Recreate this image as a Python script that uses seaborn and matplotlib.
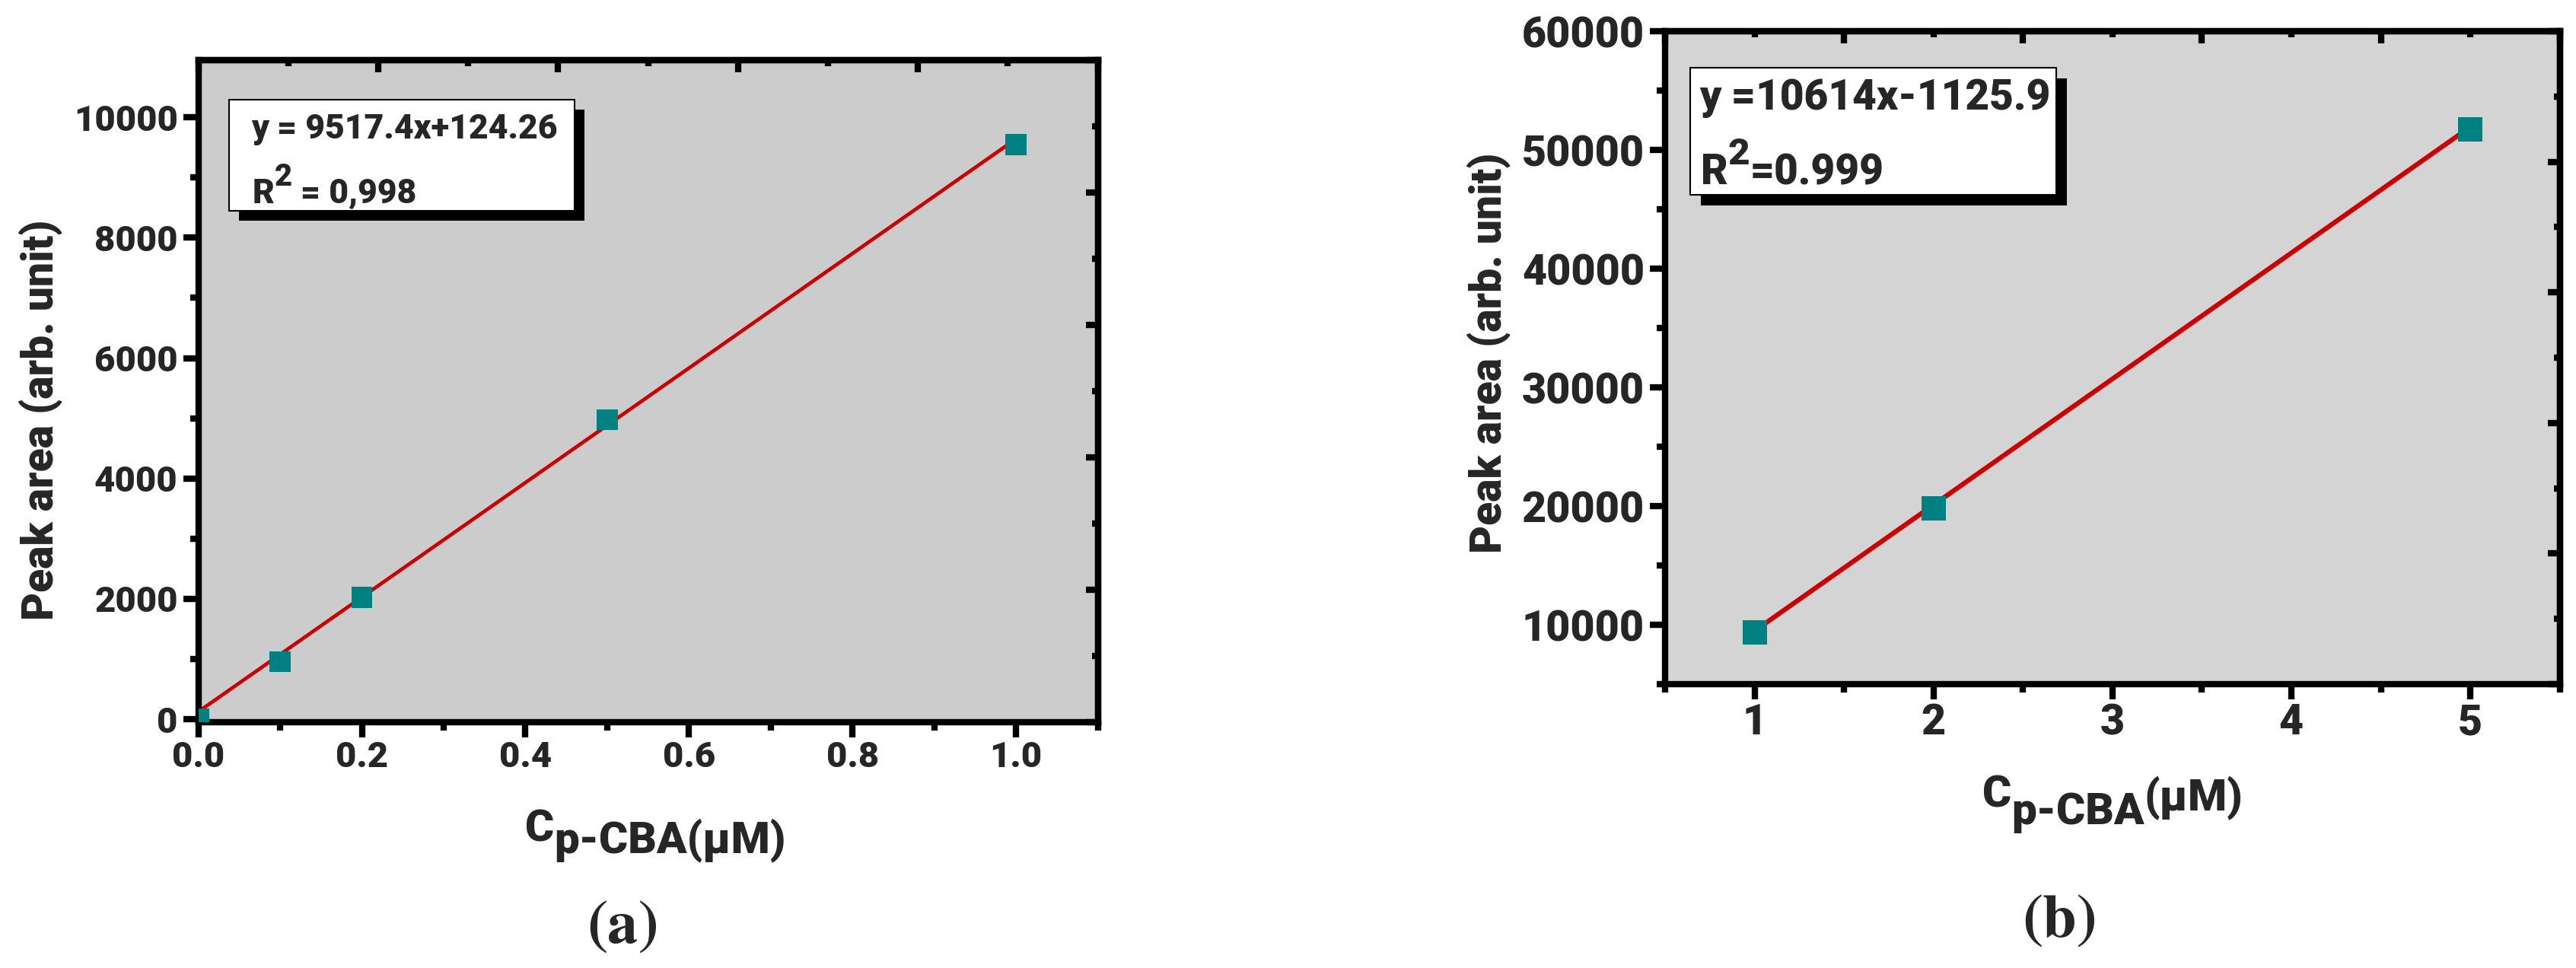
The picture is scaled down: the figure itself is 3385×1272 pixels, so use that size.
import numpy as np
import matplotlib
matplotlib.use("Agg")
import matplotlib.pyplot as plt
from matplotlib.patches import Rectangle
from matplotlib.ticker import MultipleLocator, FormatStrFormatter
import seaborn as sns

# ── data ──────────────────────────────────────────────────────────────────
conc_a = [0.0, 0.1, 0.2, 0.5, 1.0]          # C p-CBA (uM), panel a
area_a = [0, 955, 2020, 4975, 9550]         # peak area, panel a
slope_a, icpt_a = 9517.4, 124.26
fit_range_a = [0.0, 1.0]
eq_a = ("y = 9517.4x+124.26", "0,998")

conc_b = [1, 2, 5]                          # panel b
area_b = [9380, 19800, 51750]
slope_b, icpt_b = 10614, -1125.9
fit_range_b = [1, 5]
eq_b = ("y =10614x-1125.9", "0.999")

TEAL = "#008080"
RED = "#cc0000"
LW = 6  # frame / tick thickness (pt)
WEIGHT = 900

sns.set_style("ticks")
plt.rcParams["font.family"] = ["Roboto", "Liberation Sans", "DejaVu Sans"]
plt.rcParams["font.weight"] = WEIGHT
plt.rcParams["axes.labelweight"] = WEIGHT


def run_text(ax, x, y, pieces, size, zorder=6):
    """Draw text pieces side by side, each one raised/lowered by some points."""
    prev = None
    for text, rise, scale in pieces:
        if prev is None:
            xy, coords = (x, y), "axes fraction"
        else:
            xy, coords = (1, y), (prev, "axes fraction")
        prev = ax.annotate(text, xy=xy, xycoords=coords, xytext=(0, rise),
                           textcoords="offset points", fontsize=size * scale,
                           ha="left", va="baseline", fontweight=WEIGHT,
                           annotation_clip=False, zorder=zorder)


def frame_ticks(ax, xlim, ylim):
    # Origin style: top/right axes split in 10 equal steps, ticks inside
    tx = np.linspace(*xlim, 11)
    ty = np.linspace(*ylim, 11)
    top = ax.secondary_xaxis("top")
    top.set_xticks(tx[::2])
    top.set_xticks(tx[1::2], minor=True)
    top.tick_params(which="both", direction="in", labeltop=False, width=LW, color="black")
    top.tick_params(which="major", length=11.5)
    top.tick_params(which="minor", length=5.8)
    top.spines["top"].set_linewidth(LW)
    right = ax.secondary_yaxis("right")
    right.set_yticks(ty[::2])
    right.set_yticks(ty[1::2], minor=True)
    right.tick_params(which="both", direction="in", labelright=False, width=LW, color="black")
    right.tick_params(which="major", length=11.5)
    right.tick_params(which="minor", length=5.8)
    right.spines["right"].set_linewidth(LW)


def eq_box(ax, box, shadow, line1_xy, line2_xy, eq, size, sup_rise, sup_scale, gap):
    x0, y0, w, h = box
    dx, dy = shadow
    ax.add_patch(Rectangle((x0 + dx, y0 - dy), w, h, transform=ax.transAxes,
                           facecolor="black", edgecolor="none", zorder=4))
    ax.add_patch(Rectangle((x0, y0), w, h, transform=ax.transAxes,
                           facecolor="white", edgecolor="black", lw=1.5, zorder=5))
    ax.text(*line1_xy, eq[0], transform=ax.transAxes, fontsize=size,
            ha="left", va="baseline", fontweight=WEIGHT, zorder=6)
    run_text(ax, *line2_xy, [("R", 0, 1.0), ("2", sup_rise, sup_scale),
                             (gap + "=" + gap + eq[1], 0, 1.0)], size)


def panel(ax, conc, area, slope, icpt, fit_range, face, msize, lw, tick_fs):
    ax.set_facecolor(face)
    fit_y = [slope * x + icpt for x in fit_range]
    sns.lineplot(x=fit_range, y=fit_y, ax=ax, color=RED, lw=lw, legend=False, zorder=2)
    sns.scatterplot(x=conc, y=area, ax=ax, marker="s", s=msize, color=TEAL,
                    edgecolor="none", linewidth=0, zorder=3, legend=False)
    for sp in ax.spines.values():
        sp.set_visible(True)
        sp.set_linewidth(LW)
        sp.set_color("black")
    ax.tick_params(which="major", direction="out", length=14.4, width=LW,
                   labelsize=tick_fs, top=False, right=False, color="black")
    ax.tick_params(which="minor", direction="out", length=8, width=LW,
                   top=False, right=False, color="black")
    ax.tick_params(axis="y", pad=5)
    ax.tick_params(axis="x", pad=3)
    ax.set_xlabel("")
    ax.set_ylabel("Peak area (arb. unit)", fontsize=41, fontweight=WEIGHT)


fig = plt.figure(figsize=(33.85, 12.72), dpi=100)

# ── panel (a) ─────────────────────────────────────────────────────────────
ax_a = fig.add_axes([0.0770, 0.2539, 0.3492, 0.6840])
panel(ax_a, conc_a, area_a, slope_a, icpt_a, fit_range_a, "#cccccc", 400, 3.4, 34)
ax_a.set_xlim(0, 1.1)
ax_a.set_ylim(-50, 10950)
ax_a.xaxis.set_major_locator(MultipleLocator(0.2))
ax_a.xaxis.set_minor_locator(MultipleLocator(0.1))
ax_a.xaxis.set_major_formatter(FormatStrFormatter("%.1f"))
ax_a.yaxis.set_major_locator(MultipleLocator(2000))
ax_a.yaxis.set_minor_locator(MultipleLocator(1000))
frame_ticks(ax_a, ax_a.get_xlim(), ax_a.get_ylim())
ax_a.yaxis.set_label_coords(-0.151, 0.457)
eq_box(ax_a, (0.034, 0.7728, 0.3844, 0.1678), (0.011, 0.015),
       (0.0588, 0.882), (0.0602, 0.7843), eq_a, 32, 16, 0.9, " ")
run_text(ax_a, 0.3634, -0.1793, [("C", 0, 1.0), ("p-CBA(μM)", -11, 1.0)], 42)

# ── panel (b) ─────────────────────────────────────────────────────────────
ax_b = fig.add_axes([0.6464, 0.2932, 0.3473, 0.6745])
panel(ax_b, conc_b, area_b, slope_b, icpt_b, fit_range_b, "#d4d4d4", 530, 4.5, 40)
ax_b.set_xlim(0.5, 5.5)
ax_b.set_ylim(5000, 60000)
ax_b.xaxis.set_major_locator(MultipleLocator(1))
ax_b.xaxis.set_minor_locator(MultipleLocator(0.5))
ax_b.yaxis.set_major_locator(MultipleLocator(10000))
ax_b.yaxis.set_minor_locator(MultipleLocator(5000))
frame_ticks(ax_b, ax_b.get_xlim(), ax_b.get_ylim())
ax_b.yaxis.set_label_coords(-0.1727, 0.507)
eq_box(ax_b, (0.0278, 0.7494, 0.4092, 0.1948), (0.0119, 0.0163),
       (0.0386, 0.880), (0.0395, 0.7657), eq_b, 39.5, 19, 0.9, "")
run_text(ax_b, 0.3547, -0.1876,
         [("C", 0, 1.0), ("p-CBA", -16.5, 1.0), ("(μM)", -3, 1.0)], 42)

# ── sub-figure captions ───────────────────────────────────────────────────
fig.text(0.2415, 0.0267, r"$(\mathbf{a})$", math_fontfamily="stix",
         fontsize=58, ha="center", va="baseline")
fig.text(0.7991, 0.0330, r"$(\mathbf{b})$", math_fontfamily="stix",
         fontsize=58, ha="center", va="baseline")

fig.savefig("out.png", dpi=100, facecolor="white")
